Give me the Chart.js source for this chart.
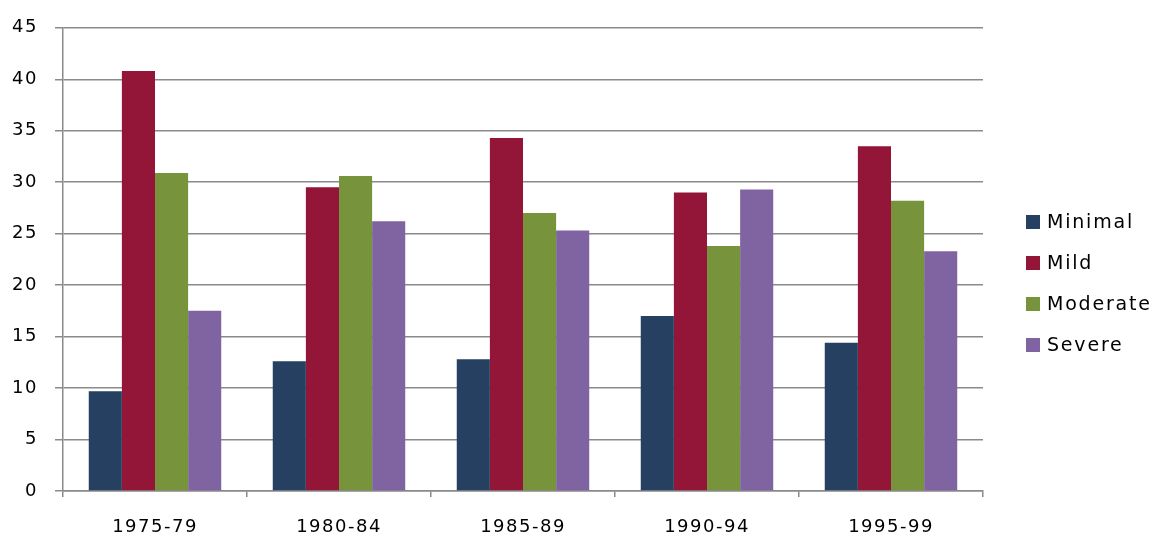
<!DOCTYPE html>
<html>
<head>
<meta charset="utf-8">
<script src="https://cdn.jsdelivr.net/npm/chart.js@4"></script>
<style>
html,body{margin:0;padding:0;background:#fff;}
#wrap{width:1152px;height:538px;position:relative;}
</style>
</head>
<body>
<div id="wrap"><canvas id="c" width="1152" height="538"></canvas></div>
<script>
const categories = ["1975-79", "1980-84", "1985-89", "1990-94", "1995-99"];
const minimal  = [9.7, 12.6, 12.8, 17.0, 14.4];
const mild     = [40.8, 29.5, 34.3, 29.0, 33.5];
const moderate = [30.9, 30.6, 27.0, 23.8, 28.2];
const severe   = [17.5, 26.2, 25.3, 29.3, 23.3];
const seriesNames = ["Minimal", "Mild", "Moderate", "Severe"];
const yTicks = [0, 5, 10, 15, 20, 25, 30, 35, 40, 45];

const colors = ["#254061", "#931638", "#77933C", "#8064A2"];
const FONT = "'DejaVu Sans', sans-serif";

const spacingPlugin = {
  id: 'spacing',
  beforeDraw(chart) { chart.ctx.letterSpacing = "1.5px"; }
};

const legendPlugin = {
  id: 'customLegend',
  afterDraw(chart) {
    const ctx = chart.ctx;
    ctx.save();
    ctx.letterSpacing = "1.8px";
    const x0 = 1026, yStart = 222, step = 41, box = 14;
    chart.data.datasets.forEach((ds, i) => {
      const cy = yStart + i * step;
      ctx.fillStyle = ds.backgroundColor;
      ctx.fillRect(x0, cy - box / 2, box, box);
      ctx.fillStyle = "#000";
      ctx.font = "19px " + FONT;
      ctx.textBaseline = "middle";
      ctx.textAlign = "left";
      ctx.fillText(ds.label, x0 + 21, cy + 1);
    });
    ctx.restore();
  }
};

const datasets = [minimal, mild, moderate, severe].map((d, i) => ({
  label: seriesNames[i],
  data: d,
  backgroundColor: colors[i],
  borderWidth: 0,
  categoryPercentage: 0.72,
  barPercentage: 1.0
}));

new Chart(document.getElementById('c'), {
  type: 'bar',
  data: { labels: categories, datasets },
  options: {
    responsive: false,
    animation: false,
    devicePixelRatio: 1,
    layout: { padding: { left: 0, right: 169, top: 15, bottom: 0 } },
    plugins: { legend: { display: false }, tooltip: { enabled: false } },
    scales: {
      x: {
        offset: true,
        afterFit(scale) { scale.height = 47; },
        grid: { offset: true, drawOnChartArea: false, drawTicks: true, tickLength: 6, color: "#8a8a8a", lineWidth: 1.5 },
        border: { display: true, color: "#8a8a8a", width: 1.5 },
        ticks: { color: "#000", font: { family: FONT, size: 18 }, padding: 20 }
      },
      y: {
        min: 0, max: 45,
        afterFit(scale) { scale.width = 63; },
        afterBuildTicks(scale) { scale.ticks = yTicks.map(v => ({ value: v })); },
        grid: { color: "#8a8a8a", lineWidth: 1.5, tickLength: 8 },
        border: { display: true, color: "#8a8a8a", width: 1.5 },
        ticks: { color: "#000", font: { family: FONT, size: 18 }, padding: 17 }
      }
    }
  },
  plugins: [spacingPlugin, legendPlugin]
});
</script>
</body>
</html>
